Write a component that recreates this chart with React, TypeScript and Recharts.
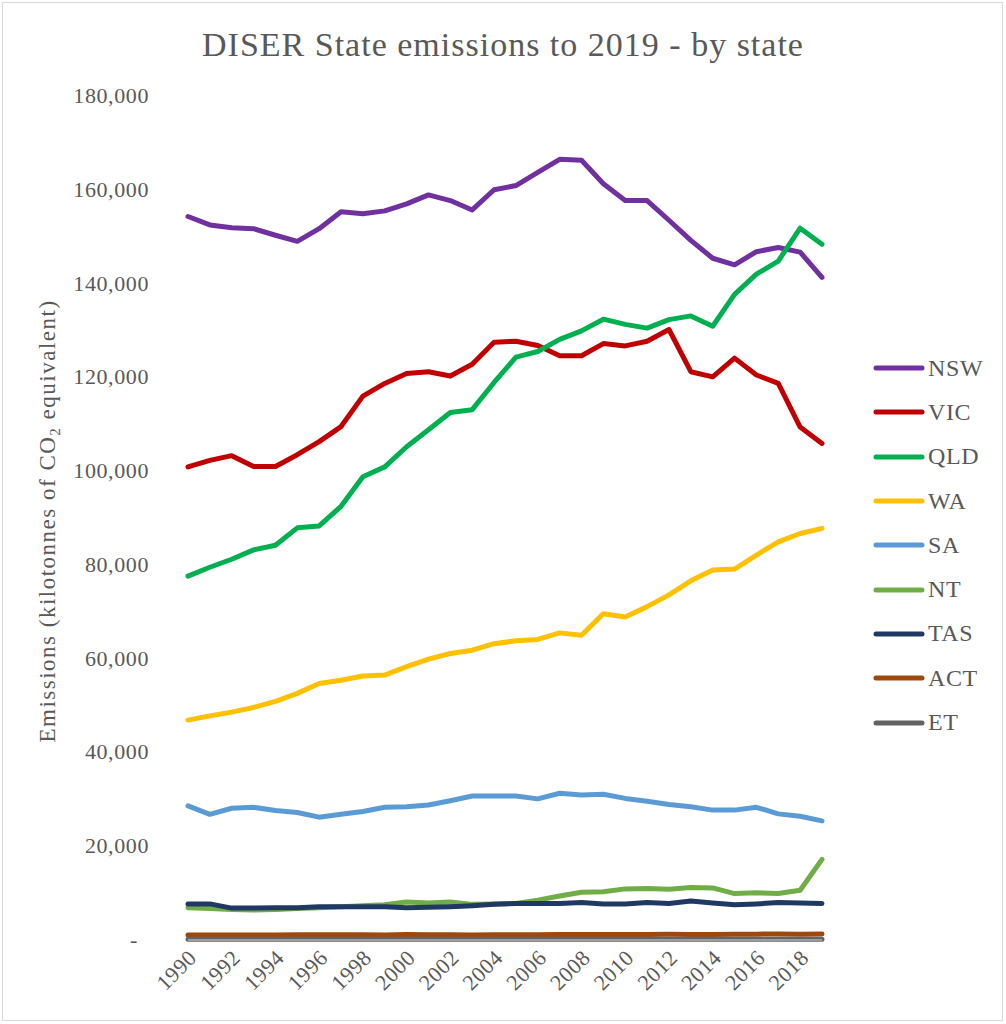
import { Label, Legend, Line, LineChart, XAxis, YAxis } from 'recharts';

const FONT = "'Liberation Serif', 'DejaVu Serif', serif";
const TEXT = '#595959';

const YEARS = [
  1990, 1991, 1992, 1993, 1994, 1995, 1996, 1997, 1998, 1999, 2000, 2001, 2002, 2003, 2004,
  2005, 2006, 2007, 2008, 2009, 2010, 2011, 2012, 2013, 2014, 2015, 2016, 2017, 2018, 2019,
];
const YEAR_TICKS = [1990, 1992, 1994, 1996, 1998, 2000, 2002, 2004, 2006, 2008, 2010, 2012, 2014, 2016, 2018];
const Y_TICKS = [0, 20000, 40000, 60000, 80000, 100000, 120000, 140000, 160000, 180000];

const NSW = [154300, 152500, 151900, 151700, 150300, 149000, 151700, 155300, 154900, 155500, 157000, 158900, 157700, 155700, 160000, 160900, 163700, 166500, 166300, 161300, 157700, 157700, 153500, 149200, 145400, 144000, 146800, 147700, 146700, 141300];
const VIC = [100900, 102300, 103300, 101000, 101000, 103500, 106300, 109500, 116000, 118700, 120800, 121200, 120300, 122800, 127500, 127700, 126800, 124600, 124600, 127200, 126700, 127700, 130200, 121200, 120100, 124100, 120500, 118700, 109400, 105900];
const QLD = [77600, 79500, 81200, 83200, 84200, 87900, 88300, 92500, 98800, 100900, 105200, 108800, 112500, 113100, 118900, 124300, 125500, 128100, 129900, 132400, 131300, 130500, 132300, 133100, 130900, 137700, 142000, 144800, 151800, 148400];
const WA = [46900, 47800, 48600, 49600, 50900, 52600, 54700, 55400, 56300, 56500, 58300, 59900, 61100, 61800, 63200, 63800, 64100, 65500, 65000, 69600, 68900, 71100, 73600, 76600, 78900, 79100, 82100, 84900, 86700, 87800];
const SA = [28600, 26800, 28100, 28300, 27600, 27200, 26200, 26800, 27400, 28300, 28400, 28800, 29700, 30700, 30700, 30700, 30100, 31300, 30900, 31100, 30200, 29600, 28900, 28400, 27700, 27700, 28300, 26900, 26400, 25400];
const NT = [6900, 6700, 6500, 6400, 6500, 6700, 6900, 7100, 7300, 7500, 8100, 7900, 8100, 7600, 7700, 7800, 8500, 9400, 10200, 10300, 10900, 11000, 10800, 11200, 11100, 9900, 10100, 9900, 10600, 17200];
const TAS = [7700, 7700, 6800, 6800, 6900, 6900, 7100, 7100, 7100, 7100, 6900, 7000, 7100, 7300, 7600, 7800, 7800, 7800, 8000, 7700, 7700, 8000, 7800, 8300, 7900, 7500, 7700, 8000, 7900, 7800];
const ACT = [1050, 1050, 1050, 1050, 1080, 1100, 1120, 1100, 1100, 1080, 1150, 1100, 1100, 1080, 1120, 1100, 1120, 1150, 1150, 1150, 1150, 1180, 1200, 1180, 1150, 1200, 1250, 1300, 1250, 1300];
const ET = [150, 150, 140, 140, 150, 150, 160, 150, 150, 160, 160, 150, 150, 160, 160, 150, 160, 160, 150, 150, 160, 160, 150, 160, 150, 150, 160, 160, 150, 150];

const SERIES = [
  { name: 'NSW', values: NSW, color: '#7030A0' },
  { name: 'VIC', values: VIC, color: '#C00000' },
  { name: 'QLD', values: QLD, color: '#00B050' },
  { name: 'WA', values: WA, color: '#FFC000' },
  { name: 'SA', values: SA, color: '#5B9BD5' },
  { name: 'NT', values: NT, color: '#70AD47' },
  { name: 'TAS', values: TAS, color: '#203864' },
  { name: 'ACT', values: ACT, color: '#9E480E' },
  { name: 'ET', values: ET, color: '#636363' },
];
const ORDER = SERIES.map((s) => s.name);

const data = YEARS.map((year, i) => {
  const row: Record<string, number> = { year };
  SERIES.forEach((s) => {
    row[s.name] = s.values[i];
  });
  return row;
});

const YTick = ({ x, y, payload }: any) => (
  <text
    x={payload.value === 0 ? x - 11 : x}
    y={y}
    dy={7}
    textAnchor="end"
    fill={TEXT}
    fontSize={22}
    letterSpacing={0.6}
    fontFamily={FONT}
  >
    {payload.value === 0 ? '-' : payload.value.toLocaleString('en-US')}
  </text>
);

const XTick = ({ x, y, payload }: any) => {
  const tx = x + 10;
  const ty = y + 17;
  return (
    <text
      x={tx}
      y={ty}
      textAnchor="end"
      fill={TEXT}
      fontSize={22}
      letterSpacing={0.5}
      fontFamily={FONT}
      transform={`rotate(-45, ${tx}, ${ty})`}
    >
      {payload.value}
    </text>
  );
};

const YTitle = () => (
  <text
    transform="translate(55, 521) rotate(-90)"
    textAnchor="middle"
    fill={TEXT}
    fontSize={23}
    letterSpacing={1.5}
    fontFamily={FONT}
  >
    <tspan>Emissions (kilotonnes of CO</tspan>
    <tspan dy={5} fontSize={15}>2</tspan>
    <tspan dy={-5}> equivalent)</tspan>
  </text>
);

const renderLegend = (props: any) => {
  const items = [...(props.payload || [])].sort(
    (a: any, b: any) => ORDER.indexOf(a.value) - ORDER.indexOf(b.value),
  );
  return (
    <div>
      {items.map((entry: any) => (
        <div key={entry.value} style={{ height: 44.3, display: 'flex', alignItems: 'center' }}>
          <svg width={52} height={10}>
            <line x1={3} y1={5} x2={49} y2={5} stroke={entry.color} strokeWidth={5} strokeLinecap="round" />
          </svg>
          <span style={{ fontFamily: FONT, fontSize: 24, letterSpacing: 0.6, color: TEXT, marginLeft: 3 }}>
            {entry.value}
          </span>
        </div>
      ))}
    </div>
  );
};

export default function App() {
  return (
    <div style={{ position: 'relative', width: 1006, height: 1024, background: '#fff' }}>
      <style>{'body{margin:0}'}</style>
      <div
        style={{
          position: 'absolute',
          left: 2,
          top: 2,
          right: 3,
          bottom: 3,
          border: '1px solid #d9d9d9',
          pointerEvents: 'none',
        }}
      />
      <div
        style={{
          position: 'absolute',
          top: 25,
          left: 0,
          width: 1006,
          textAlign: 'center',
          fontFamily: FONT,
          fontSize: 34,
          letterSpacing: 1,
          lineHeight: '40px',
          color: TEXT,
        }}
      >
        DISER State emissions to 2019 - by state
      </div>
      <LineChart width={1006} height={1024} data={data} margin={{ top: 96, right: 184, bottom: 24, left: 0 }}>
        <XAxis
          dataKey="year"
          type="number"
          domain={[1990, 2019]}
          ticks={YEAR_TICKS}
          height={60}
          tickLine={false}
          tickSize={0}
          axisLine={{ stroke: '#d9d9d9' }}
          tick={<XTick />}
        />
        <YAxis
          domain={[0, 180000]}
          ticks={Y_TICKS}
          width={188}
          axisLine={false}
          tickLine={false}
          tickSize={0}
          tickMargin={39}
          tick={<YTick />}
        >
          <Label content={<YTitle />} />
        </YAxis>
        <Legend
          layout="vertical"
          align="center"
          verticalAlign="middle"
          wrapperStyle={{ left: 873, top: 346, width: 133 }}
          content={renderLegend}
        />
        {SERIES.map((s) => (
          <Line
            key={s.name}
            type="linear"
            dataKey={s.name}
            name={s.name}
            stroke={s.color}
            strokeWidth={5}
            strokeLinejoin="round"
            strokeLinecap="round"
            dot={false}
            activeDot={false}
            isAnimationActive={false}
          />
        ))}
      </LineChart>
    </div>
  );
}
